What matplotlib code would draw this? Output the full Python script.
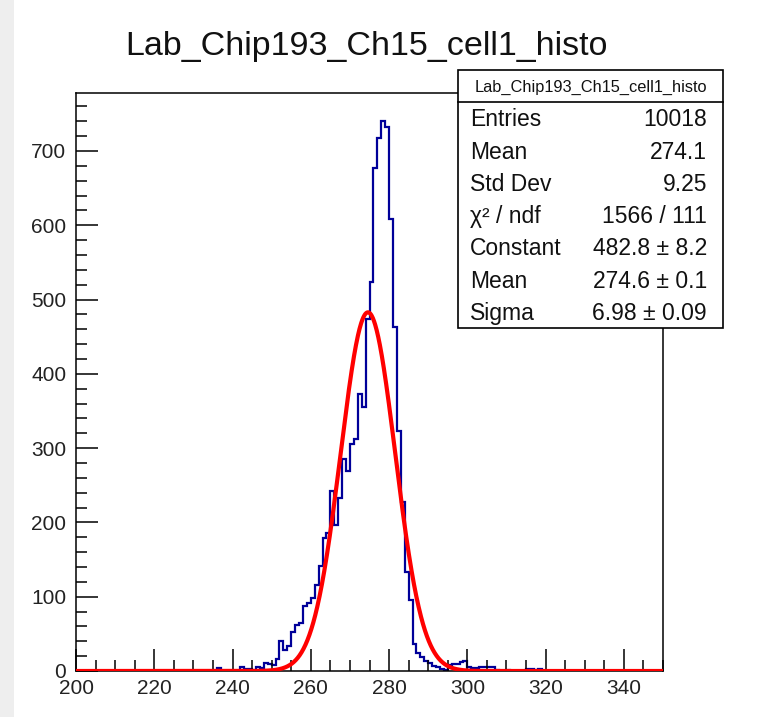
import numpy as np
import matplotlib
matplotlib.use("Agg")
import matplotlib.pyplot as plt
from matplotlib.patches import Rectangle
from matplotlib.lines import Line2D
from matplotlib.ticker import MultipleLocator

plt.rcParams['font.family'] = ['Liberation Sans', 'DejaVu Sans']

# ---------------- data ----------------
title = "Lab_Chip193_Ch15_cell1_histo"
x_min, x_max = 200, 350          # histogram range, bin width 1
first_bin = 236                  # lower edge of first listed bin
counts_listed = [
    4, 0, 0, 0, 0, 0, 6, 3, 3, 0,            # 236-245
    6, 4, 11, 10, 8, 16, 40, 28, 34, 52,     # 246-255
    62, 64, 87, 91, 98, 116, 141, 179, 186, 242,   # 256-265
    197, 233, 285, 269, 306, 312, 373, 355, 474, 524,  # 266-275
    677, 718, 741, 732, 609, 463, 323, 227, 133, 96,   # 276-285
    37, 24, 19, 14, 11, 7, 5, 3, 2, 8,       # 286-295
    10, 9, 12, 14, 5, 4, 4, 6, 6, 6,         # 296-305
    6, 2, 0, 0, 1, 0, 0, 0, 0, 3,            # 306-315
    3, 2, 3, 0,                              # 316-319
]
# Gaussian fit parameters (from stat box)
fit_const, fit_mean, fit_sigma = 482.8, 274.6, 6.98
stat_labels = ["Entries", "Mean", "Std Dev", "\u03c7\u00b2 / ndf", "Constant", "Mean", "Sigma"]
stat_values = ["10018", "274.1", "9.25", "1566 / 111", "482.8 \u00b1 8.2", "274.6 \u00b1 0.1", "6.98 \u00b1 0.09"]

x_ticks = [200, 220, 240, 260, 280, 300, 320, 340]
y_ticks = [0, 100, 200, 300, 400, 500, 600, 700]

# ---------------- build histogram ----------------
edges = np.arange(x_min, x_max + 1, 1)
counts = np.zeros(len(edges) - 1)
counts[first_bin - x_min:first_bin - x_min + len(counts_listed)] = counts_listed

W, H = 759, 717
fig = plt.figure(figsize=(W / 100, H / 100), dpi=100)
fig.patch.set_facecolor('white')

# light gray strip on the left edge
fig.add_artist(Rectangle((0, 0), 14 / W, 1, transform=fig.transFigure,
                         facecolor='#eeeeee', edgecolor='none', zorder=0))

ax_l, ax_r, ax_t, ax_b = 76, 663, 93, 671
ax = fig.add_axes([ax_l / W, 1 - ax_b / H, (ax_r - ax_l) / W, (ax_b - ax_t) / H])

ax.stairs(counts, edges, color='#000099', linewidth=1.6, baseline=0)
xf = np.linspace(x_min, x_max, 1500)
yf = fit_const * np.exp(-0.5 * ((xf - fit_mean) / fit_sigma) ** 2)
ax.plot(xf, yf, color='#ff0000', linewidth=3.0, zorder=3)

ax.set_xlim(x_min, x_max)
ax.set_ylim(0, 1.05 * counts.max())
ax.set_xticks(x_ticks)
ax.set_yticks(y_ticks)
ax.xaxis.set_minor_locator(MultipleLocator(5))
ax.yaxis.set_minor_locator(MultipleLocator(20))
ax.tick_params(which='both', direction='in', top=False, right=False, colors='black',
               labelsize=15)
ax.tick_params(which='major', length=16, width=1.1)
ax.tick_params(which='minor', length=8, width=1.1)
ax.tick_params(axis='x', pad=6)
ax.tick_params(axis='y', pad=7)
for lab in ax.get_xticklabels() + ax.get_yticklabels():
    lab.set_color('#222222')
for s in ax.spines.values():
    s.set_linewidth(1.1)
    s.set_color('black')

# title
fig.text(367 / W, 1 - 46 / H, title, ha='center', va='center', fontsize=24.5, color='#111111')

# stat box
bx0, bx1, by0, by1, bhead = 458, 723, 70, 328, 102
fig.add_artist(Rectangle((bx0 / W, 1 - by1 / H), (bx1 - bx0) / W, (by1 - by0) / H,
                         transform=fig.transFigure, facecolor='white', edgecolor='black',
                         linewidth=1.2, zorder=10))
fig.add_artist(Line2D([bx0 / W, bx1 / W], [1 - bhead / H, 1 - bhead / H],
                      transform=fig.transFigure, color='black', linewidth=1.2, zorder=11))
fig.text((bx0 + bx1) / 2 / W, 1 - 87 / H, title, ha='center', va='center', fontsize=11.8,
         color='#111111', zorder=12)
for i, (lab, val) in enumerate(zip(stat_labels, stat_values)):
    yy = 1 - (120 + 32.2 * i) / H
    fig.text(470 / W, yy, lab, ha='left', va='center', fontsize=16.5, color='#111111', zorder=12)
    fig.text(707 / W, yy, val, ha='right', va='center', fontsize=16.5, color='#111111', zorder=12)

fig.savefig('out.png', dpi=100)
